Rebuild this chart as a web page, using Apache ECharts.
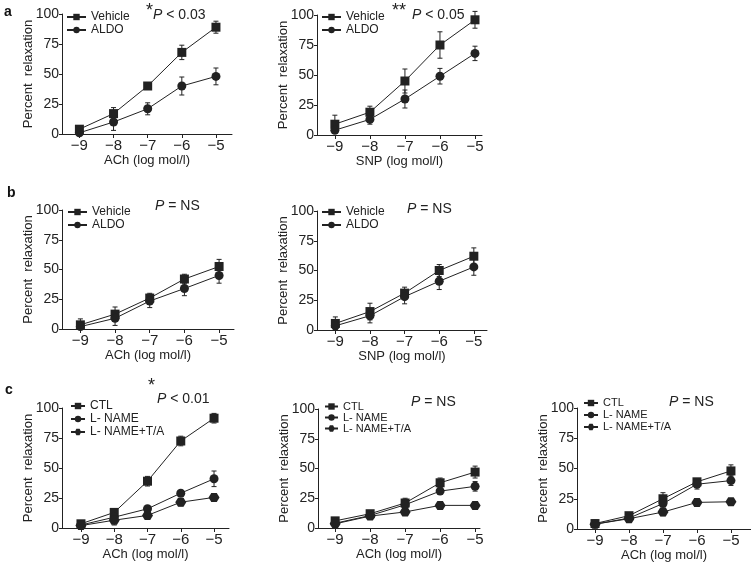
<!DOCTYPE html>
<html><head><meta charset="utf-8">
<script src="https://cdn.jsdelivr.net/npm/echarts@6/dist/echarts.min.js"></script>
<style>html,body{margin:0;padding:0;background:#fff}#c{width:751px;height:568px}</style>
</head><body><div id="c"></div>
<script>
// ---- data ----
const xVals = [-9, -8, -7, -6, -5];
const yTicks = [0, 25, 50, 75, 100];

const aAchVehicle = [4, 17, 40, 68, 89];     const aAchVehicleErr = [2, 5, 2, 6, 5];
const aAchAldo    = [1, 10, 21, 40, 48];     const aAchAldoErr    = [1, 7, 5, 7.5, 7];
const aSnpVehicle = [9, 19, 45, 75, 96];     const aSnpVehicleErr = [7.5, 5, 10, 11, 7];
const aSnpAldo    = [4, 13, 30, 49, 68];     const aSnpAldoErr    = [2, 4, 7.5, 6.5, 6];

const bAchVehicle = [3.5, 12.5, 26, 42, 52.5]; const bAchVehicleErr = [5, 6, 4, 4, 6];
const bAchAldo    = [2, 9, 23.5, 34, 45];      const bAchAldoErr    = [3, 6, 5.5, 6, 6.5];
const bSnpVehicle = [5.5, 15.5, 31, 50, 62];   const bSnpVehicleErr = [5.5, 7, 5, 5, 7];
const bSnpAldo    = [3.5, 12, 28, 41, 53];     const bSnpAldoErr    = [3, 6, 6, 7, 7];

const c1Ctl    = [3.5, 13, 39, 72.5, 91.5];  const c1CtlErr    = [2, 2, 4, 4, 4];
const c1Lname  = [2.5, 9, 16, 29, 41];       const c1LnameErr  = [2, 2, 2, 2, 6.5];
const c1LnameTA= [2, 6.5, 10.5, 21.5, 25.5]; const c1LnameTAErr= [2, 4, 2, 3, 3];
const c2Ctl    = [6, 12, 21, 38, 47];        const c2CtlErr    = [1, 1, 4, 4, 5];
const c2Lname  = [4, 10.5, 19.5, 31, 35];    const c2LnameErr  = [1, 1, 2, 2, 4];
const c2LnameTA= [3.5, 10, 13.5, 19, 19];    const c2LnameTAErr= [1, 1, 1, 1, 1];
const c3Ctl    = [4.5, 11, 25, 39, 48];      const c3CtlErr    = [1, 1, 5, 2, 5];
const c3Lname  = [4, 9, 21, 37, 40];         const c3LnameErr  = [1, 1, 2, 4, 4];
const c3LnameTA= [4, 8.5, 14, 22, 22.5];     const c3LnameTAErr= [1, 1, 3, 3, 1];

// ---- layout / style ----
const FONT = '"Liberation Sans", Arial, Helvetica, sans-serif';
const HEX = 'path://M0,5 L3,0 L9,0 L12,5 L9,10 L3,10 Z';
const panels = [
  {grid:{left:62,top:14,width:170,height:120}, xmin:-9.51, xmax:-4.53, xname:'ACh (log mol/l)',
   groups:[['Vehicle','rect',aAchVehicle,aAchVehicleErr],['ALDO','circle',aAchAldo,aAchAldoErr]],
   legend:{left:66,top:11,iw:19,fs:12,lh:12,gap:1}},
  {grid:{left:317,top:15,width:165,height:120}, xmin:-9.51, xmax:-4.8, xname:'SNP (log mol/l)',
   groups:[['Vehicle','rect',aSnpVehicle,aSnpVehicleErr],['ALDO','circle',aSnpAldo,aSnpAldoErr]],
   legend:{left:321,top:11,iw:19,fs:12,lh:12,gap:1}},
  {grid:{left:62,top:210,width:172,height:119}, xmin:-9.53, xmax:-4.57, xname:'ACh (log mol/l)',
   groups:[['Vehicle','rect',bAchVehicle,bAchVehicleErr],['ALDO','circle',bAchAldo,bAchAldoErr]],
   legend:{left:67,top:206,iw:19,fs:12,lh:12,gap:1}},
  {grid:{left:317,top:211,width:170,height:119}, xmin:-9.53, xmax:-4.62, xname:'SNP (log mol/l)',
   groups:[['Vehicle','rect',bSnpVehicle,bSnpVehicleErr],['ALDO','circle',bSnpAldo,bSnpAldoErr]],
   legend:{left:321,top:206,iw:19,fs:12,lh:12,gap:1}},
  {grid:{left:62,top:408,width:167,height:120}, xmin:-9.57, xmax:-4.55, xname:'ACh (log mol/l)',
   groups:[['CTL','rect',c1Ctl,c1CtlErr],['L- NAME','circle',c1Lname,c1LnameErr],['L- NAME+T/A',HEX,c1LnameTA,c1LnameTAErr]],
   legend:{left:70,top:400,iw:14,fs:12,lh:12,gap:1}},
  {grid:{left:318,top:409,width:162,height:119}, xmin:-9.49, xmax:-4.86, xname:'ACh (log mol/l)',
   groups:[['CTL','rect',c2Ctl,c2CtlErr],['L- NAME','circle',c2Lname,c2LnameErr],['L- NAME+T/A',HEX,c2LnameTA,c2LnameTAErr]],
   legend:{left:324,top:401,iw:13,fs:11,lh:11,gap:0}},
  {grid:{left:577,top:408,width:174,height:121}, xmin:-9.53, xmax:-4.41, xname:'ACh (log mol/l)',
   groups:[['CTL','rect',c3Ctl,c3CtlErr],['L- NAME','circle',c3Lname,c3LnameErr],['L- NAME+T/A',HEX,c3LnameTA,c3LnameTAErr]],
   legend:{left:583,top:397,iw:14,fs:11,lh:12,gap:0}}
];

const grids = [], xAxes = [], yAxes = [], series = [], legends = [];
panels.forEach((p, i) => {
  grids.push(Object.assign({containLabel:false}, p.grid));
  xAxes.push({
    type:'value', gridIndex:i, min:p.xmin, max:p.xmax,
    name:p.xname, nameLocation:'middle', nameGap:20, nameMoveOverlap:false,
    nameTextStyle:{fontFamily:FONT, fontSize:13, color:'#222'},
    axisLine:{show:true, onZero:false, lineStyle:{color:'#222', width:1}},
    axisTick:{show:true, length:4, lineStyle:{color:'#222'}, customValues:xVals},
    axisLabel:{fontFamily:FONT, fontSize:15, color:'#222', margin:4, customValues:xVals,
      formatter:v => (v < 0 ? '\u2212' : '') + Math.abs(Math.round(v))},
    splitLine:{show:false}
  });
  yAxes.push({
    type:'value', gridIndex:i, min:0, max:100, interval:25,
    name:'Percent  relaxation', nameLocation:'middle', nameGap:27, nameRotate:90, nameMoveOverlap:false,
    nameTextStyle:{fontFamily:FONT, fontSize:13, color:'#222'},
    axisLine:{show:true, lineStyle:{color:'#222', width:1}},
    axisTick:{show:true, length:3, lineStyle:{color:'#222'}},
    axisLabel:{fontFamily:FONT, fontSize:14, color:'#222', margin:3},
    splitLine:{show:false}
  });
  p.groups.forEach(g => {
    const [name, sym, vals, errs] = g;
    series.push({
      type:'custom', xAxisIndex:i, yAxisIndex:i, z:1, silent:true,
      data: xVals.map((x, k) => [x, vals[k], errs[k]]),
      renderItem: (params, api) => {
        const x = api.value(0), m = api.value(1), e = api.value(2);
        const top = api.coord([x, m + e]), bot = api.coord([x, Math.max(0, m - e)]);
        const st = {stroke:'#222', lineWidth:1};
        return {type:'group', children:[
          {type:'line', shape:{x1:top[0], y1:top[1], x2:bot[0], y2:bot[1]}, style:st},
          {type:'line', shape:{x1:top[0]-2.5, y1:top[1], x2:top[0]+2.5, y2:top[1]}, style:st},
          {type:'line', shape:{x1:bot[0]-2.5, y1:bot[1], x2:bot[0]+2.5, y2:bot[1]}, style:st}
        ]};
      }
    });
    series.push({
      type:'line', name:name, xAxisIndex:i, yAxisIndex:i, z:3,
      data: xVals.map((x, k) => [x, vals[k]]),
      symbol: sym, symbolSize: sym === HEX ? [11, 9] : 9, showSymbol:true,
      lineStyle:{color:'#222', width:1}, itemStyle:{color:'#222'},
      animation:false
    });
  });
  legends.push({
    data:p.groups.map(g => g[0]), orient:'vertical', left:p.legend.left, top:p.legend.top,
    itemWidth:p.legend.iw, itemHeight:8, itemGap:p.legend.gap, padding:0, selectedMode:false,
    textStyle:{fontFamily:FONT, fontSize:p.legend.fs, lineHeight:p.legend.lh, color:'#222'}
  });
});

function ann(left, top, txt, size) {
  return {type:'text', left:left, top:top, silent:true,
    style:{text:txt, fill:'#222', font: (size||14) + 'px ' + FONT,
      rich:{i:{fontStyle:'italic', fontSize:size||14, fontFamily:FONT, fill:'#222'}}}};
}
const graphics = [
  {type:'text', left:4, top:5, style:{text:'a', fill:'#111', font:'bold 14px ' + FONT}},
  {type:'text', left:7, top:186, style:{text:'b', fill:'#111', font:'bold 14px ' + FONT}},
  {type:'text', left:5, top:383, style:{text:'c', fill:'#111', font:'bold 14px ' + FONT}},
  ann(146, 2, '*', 18), ann(153, 8, '{i|P} < 0.03'),
  ann(392, 2, '**', 18), ann(412, 8, '{i|P} < 0.05'),
  ann(155, 199, '{i|P} = NS'),
  ann(407, 202, '{i|P} = NS'),
  ann(148, 377, '*', 18), ann(157, 392, '{i|P} < 0.01'),
  ann(411, 395, '{i|P} = NS'),
  ann(669, 395, '{i|P} = NS')
];

const chart = echarts.init(document.getElementById('c'), null, {renderer:'canvas'});
chart.setOption({
  animation:false, backgroundColor:'#fff',
  grid:grids, xAxis:xAxes, yAxis:yAxes, series:series, legend:legends, graphic:graphics
});
</script></body></html>
